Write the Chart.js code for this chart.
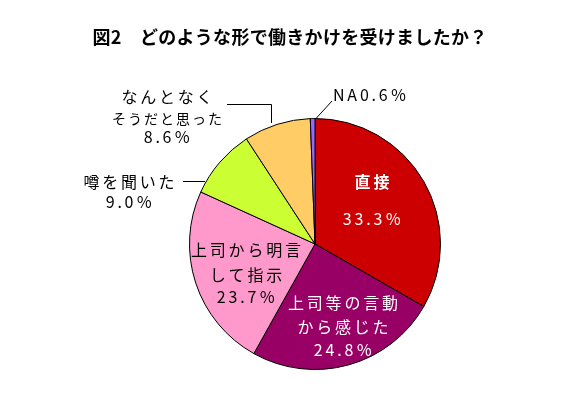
<!DOCTYPE html>
<html>
<head>
<meta charset="utf-8">
<script src="https://cdn.jsdelivr.net/npm/chart.js@4"></script>
<style>
  body { margin: 0; background: #fff; }
  #wrap { width: 567px; height: 397px; }
</style>
</head>
<body>
<div id="wrap"><canvas id="pie-chartcanvas-1"></canvas></div>
<script>
var categories = ["直接", "上司等の言動から感じた", "上司から明言して指示", "噂を聞いた", "なんとなくそうだと思った", "NA"];
var values = [33.3, 24.8, 23.7, 9.0, 8.6, 0.6];
var colors = ["#CC0000", "#990066", "#FF99CC", "#CCFF33", "#FFCC66", "#9966FF"];
var title = "図2　どのような形で働きかけを受けましたか？";

var jp = '"Noto Sans CJK JP", sans-serif';

function pct(v) {
    return v.toFixed(1) + "％";
}

// label lines, offsets from pie centre
var labels = [
    { lines: ["直接", pct(values[0])], dx: 57, dy: [-62, -25], color: "#fff", size: 16, bold: [true, false] },
    { lines: ["上司等の言動", "から感じた", pct(values[1])], dx: 28, dy: [59, 83, 106], color: "#fff", size: 16 },
    { lines: ["上司から明言", "して指示", pct(values[2])], dx: -69, dy: [6, 31, 53], color: "#000", size: 16 },
    { lines: ["噂を聞いた", pct(values[3])], dx: -186, dy: [-62, -42], color: "#000", size: 16 },
    { lines: ["なんとなく", "そうだと思った", pct(values[4])], dx: -148, dy: [-147, -125, -107], color: "#000", size: [16, 14, 16] },
    { lines: ["NA" + pct(values[5])], dx: 18, dy: [-149], color: "#000", size: 16, align: "left" }
];

var labelPlugin = {
    id: "pieLabels",
    afterDraw: function(chart) {
        var ctx = chart.ctx;
        var arc = chart.getDatasetMeta(0).data[0];
        var cx = arc.x, cy = arc.y, r = arc.outerRadius;

        ctx.save();
        // title
        ctx.fillStyle = "#000";
        ctx.font = "bold 18px " + jp;
        ctx.letterSpacing = "0.3px";
        ctx.textAlign = "center";
        ctx.textBaseline = "middle";
        ctx.fillText(title, 290, 37);

        // leader lines
        ctx.strokeStyle = "#000";
        ctx.lineWidth = 1;
        ctx.beginPath();
        ctx.moveTo(cx - 88, cy - 139.5);
        ctx.lineTo(cx - 43.5, cy - 139.5);
        ctx.lineTo(cx - 43.5, cy - 121);
        ctx.moveTo(cx - 132, cy - 62.5);
        ctx.lineTo(cx - 110, cy - 62.5);
        ctx.moveTo(cx + 1, cy - r);
        ctx.lineTo(cx + 17, cy - 143);
        ctx.stroke();

        labels.forEach(function(l) {
            ctx.fillStyle = l.color;
            ctx.textAlign = l.align || "center";
            l.lines.forEach(function(t, i) {
                var s = Array.isArray(l.size) ? l.size[i] : l.size;
                var b = l.bold && l.bold[i];
                var sp = s >= 16 ? 2.8 : 2;
                ctx.font = (b ? "bold " : "") + s + "px " + jp;
                ctx.letterSpacing = sp + "px";
                var x = cx + l.dx + (l.align === "left" ? 0 : sp / 2);
                ctx.fillText(t, x, cy + l.dy[i]);
            });
        });
        ctx.restore();
    }
};

var ctx1 = document.getElementById("pie-chartcanvas-1");

var data1 = {
    labels: categories,
    datasets: [
        {
            data: values,
            backgroundColor: colors,
            borderColor: "#000",
            borderWidth: 1
        }
    ]
};

var options1 = {
    responsive: true,
    maintainAspectRatio: false,
    animation: false,
    layout: {
        padding: { top: 118, bottom: 27, left: 189, right: 126 }
    },
    plugins: {
        legend: { display: false },
        tooltip: { enabled: false },
        title: { display: false }
    }
};

var chart1 = new Chart(ctx1, {
    type: "pie",
    data: data1,
    options: options1,
    plugins: [labelPlugin]
});
</script>
</body>
</html>
